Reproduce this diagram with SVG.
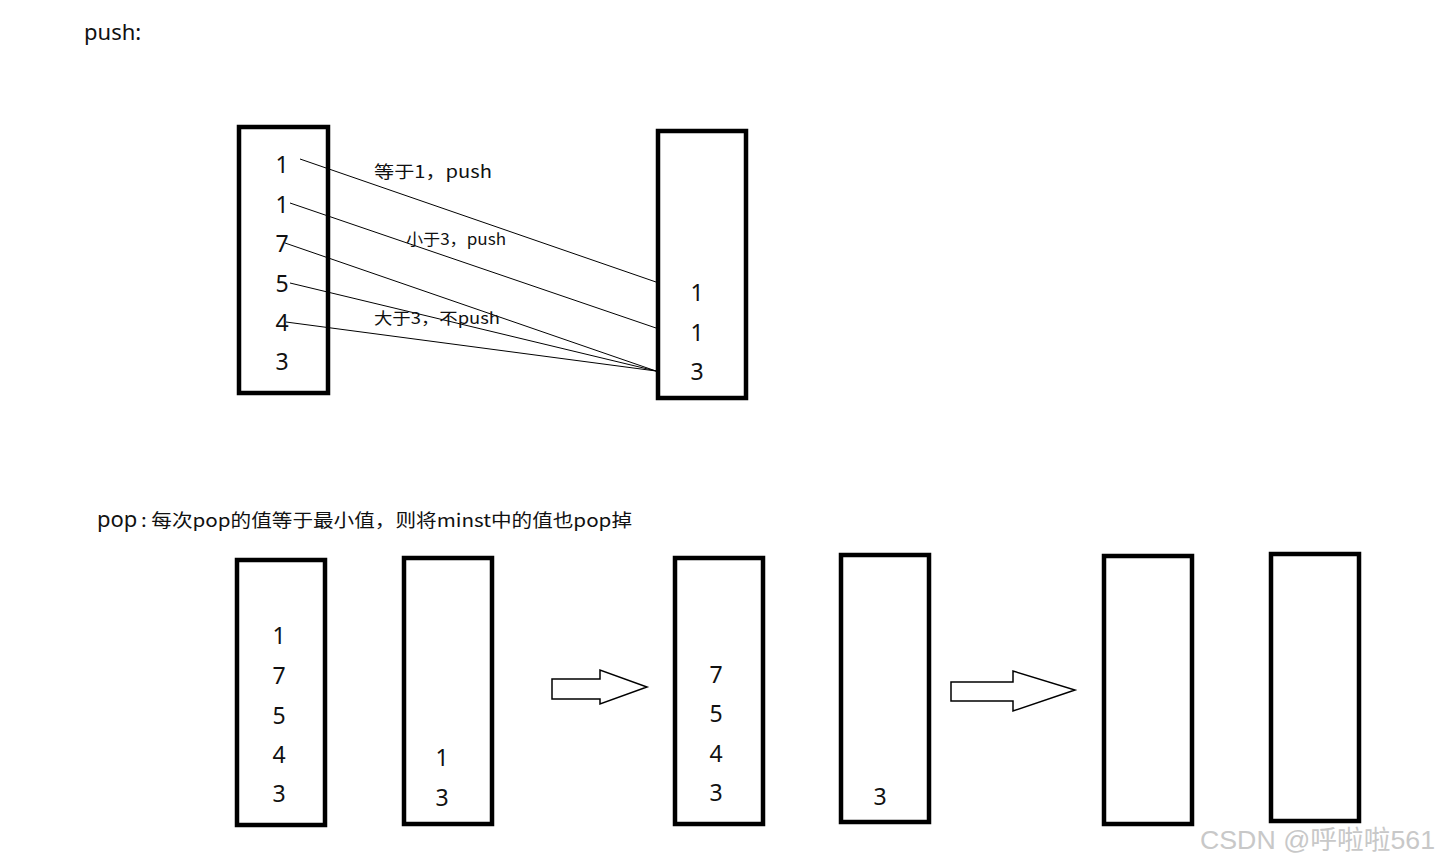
<svg xmlns="http://www.w3.org/2000/svg" width="1438" height="866" viewBox="0 0 1438 866">
<style>
.box{fill:none;stroke:#000;stroke-width:4.5}
.num{font-family:"Noto Sans","Noto Sans CJK SC",sans-serif;font-size:23px;fill:#111;text-anchor:middle;dominant-baseline:central}
.lbl{font-family:"Noto Sans CJK SC","Noto Sans",sans-serif;font-size:17px;fill:#111}
.ln{stroke:#000;stroke-width:1;fill:none}
.arr{fill:#fff;stroke:#000;stroke-width:1.5}
</style>
<rect width="1438" height="866" fill="#fff"/>
<text x="84" y="40" style="font-family:'Noto Sans',sans-serif;font-size:22px;fill:#111">push:</text>

<g id="stack-top-left">
<rect class="box" x="239" y="127" width="89" height="266"/>
<text class="num" x="282" y="164">1</text>
<text class="num" x="282" y="204">1</text>
<text class="num" x="282" y="243">7</text>
<text class="num" x="282" y="283">5</text>
<text class="num" x="282" y="322">4</text>
<text class="num" x="282" y="361">3</text>
</g>
<g id="stack-top-right">
<rect class="box" x="658" y="131" width="88" height="267"/>
<text class="num" x="697" y="292">1</text>
<text class="num" x="697" y="332">1</text>
<text class="num" x="697" y="371">3</text>
</g>

<g id="connectors">
<line class="ln" x1="300" y1="159" x2="656" y2="282"/>
<line class="ln" x1="290" y1="203" x2="656" y2="328"/>
<line class="ln" x1="285" y1="243" x2="656" y2="371"/>
<line class="ln" x1="290" y1="283" x2="656" y2="371"/>
<line class="ln" x1="286" y1="322" x2="656" y2="371"/>
</g>
<text class="lbl" x="374" y="178" textLength="118" lengthAdjust="spacingAndGlyphs">等于1，push</text>
<text class="lbl" x="406" y="245" style="font-size:16px" textLength="100" lengthAdjust="spacingAndGlyphs">小于3，push</text>
<text class="lbl" x="374" y="324" style="font-size:16px" textLength="126" lengthAdjust="spacingAndGlyphs">大于3，不push</text>

<text x="97" y="527" style="font-family:'Noto Sans',sans-serif;font-size:22px;fill:#111">pop</text>
<text x="141" y="527" class="lbl" style="font-size:18px" textLength="491" lengthAdjust="spacingAndGlyphs">: 每次pop的值等于最小值，则将minst中的值也pop掉</text>

<g id="stack-a">
<rect class="box" x="237" y="560" width="88" height="265"/>
<text class="num" x="279" y="635">1</text>
<text class="num" x="279" y="675">7</text>
<text class="num" x="279" y="715">5</text>
<text class="num" x="279" y="754">4</text>
<text class="num" x="279" y="793">3</text>
</g>
<g id="stack-b">
<rect class="box" x="404" y="558" width="88" height="266"/>
<text class="num" x="442" y="757">1</text>
<text class="num" x="442" y="797">3</text>
</g>
<g id="arrow-1">
<polygon class="arr" points="552,679 600,679 600,670 647,687 600,704 600,699 552,699"/>
</g>
<g id="stack-c">
<rect class="box" x="675" y="558" width="88" height="266"/>
<text class="num" x="716" y="674">7</text>
<text class="num" x="716" y="713">5</text>
<text class="num" x="716" y="753">4</text>
<text class="num" x="716" y="792">3</text>
</g>
<g id="stack-d">
<rect class="box" x="841" y="555" width="88" height="267"/>
<text class="num" x="880" y="796">3</text>
</g>
<g id="arrow-2">
<polygon class="arr" points="951,682 1013,682 1013,671 1075,690 1013,711 1013,701 951,701"/>
</g>
<g id="stack-e">
<rect class="box" x="1104" y="556" width="88" height="268"/>
</g>
<g id="stack-f">
<rect class="box" x="1271" y="554" width="88" height="267"/>
</g>
<text x="1200" y="849" textLength="235" lengthAdjust="spacingAndGlyphs" style="font-family:'Liberation Sans','Noto Sans CJK SC',sans-serif;font-size:26px;fill:#c8c8c8">CSDN @呼啦啦561</text>
</svg>
